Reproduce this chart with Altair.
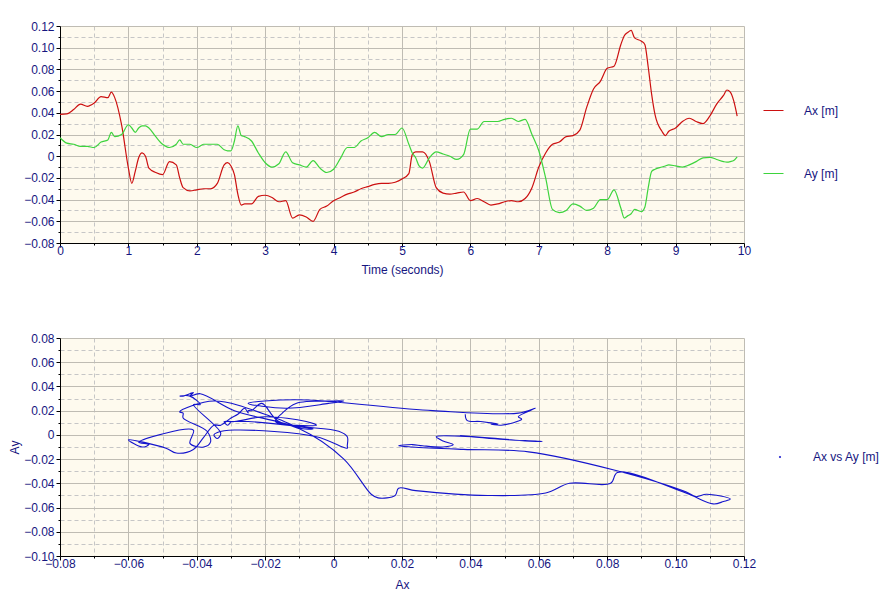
import altair as alt
import pandas as pd

# ---------------- data ----------------
time_s = [0.0, 0.1, 0.2, 0.3, 0.4, 0.5, 0.6, 0.7, 0.75, 0.8, 0.9,
          1.0, 1.05, 1.1, 1.15, 1.2, 1.25, 1.3, 1.4, 1.5, 1.6, 1.7, 1.75, 1.8, 1.9,
          2.0, 2.1, 2.2, 2.3, 2.4, 2.45, 2.5, 2.55, 2.6, 2.65, 2.7, 2.8, 2.9,
          3.0, 3.1, 3.2, 3.3, 3.4, 3.5, 3.6, 3.7, 3.8, 3.9,
          4.0, 4.1, 4.2, 4.3, 4.4, 4.5, 4.6, 4.7, 4.8, 4.9,
          5.0, 5.1, 5.15, 5.2, 5.25, 5.3, 5.4, 5.5, 5.6, 5.7, 5.8, 5.9,
          6.0, 6.1, 6.2, 6.3, 6.4, 6.5, 6.6, 6.7, 6.8, 6.9,
          7.0, 7.1, 7.2, 7.3, 7.4, 7.5, 7.6, 7.7, 7.8, 7.9,
          8.0, 8.1, 8.2, 8.25, 8.3, 8.35, 8.4, 8.5, 8.55, 8.6, 8.65, 8.7, 8.8, 8.85, 8.9,
          9.0, 9.1, 9.2, 9.3, 9.4, 9.5, 9.6, 9.7, 9.75, 9.8, 9.85, 9.9]

ax_m = [0.0385, 0.039, 0.043, 0.048, 0.046, 0.049, 0.055, 0.054, 0.059, 0.054, 0.029,
        -0.011, -0.025, -0.014, -0.0015, 0.003, 0.000, -0.011, -0.015, -0.017, -0.005, -0.008, -0.020, -0.029, -0.032,
        -0.031, -0.030, -0.030, -0.025, -0.008, -0.006, -0.009, -0.017, -0.035, -0.045, -0.044, -0.044, -0.037,
        -0.036, -0.038, -0.042, -0.041, -0.057, -0.054, -0.056, -0.060, -0.049, -0.046,
        -0.041, -0.038, -0.035, -0.033, -0.030, -0.028, -0.026, -0.025, -0.025, -0.024,
        -0.021, -0.016, 0.0015, 0.004, 0.004, 0.004, -0.005, -0.029, -0.034, -0.035, -0.034, -0.033,
        -0.041, -0.039, -0.042, -0.045, -0.044, -0.042, -0.041, -0.042, -0.039, -0.029,
        -0.010, 0.003, 0.011, 0.013, 0.018, 0.019, 0.024, 0.045, 0.062, 0.069,
        0.081, 0.083, 0.103, 0.111, 0.114, 0.116, 0.109, 0.106, 0.103, 0.082, 0.057, 0.038, 0.023, 0.019, 0.023,
        0.026, 0.032, 0.035, 0.032, 0.030, 0.037, 0.048, 0.056, 0.061, 0.059, 0.051, 0.037]

ay_m = [0.017, 0.012, 0.011, 0.009, 0.009, 0.008, 0.013, 0.015, 0.022, 0.018, 0.020,
        0.029, 0.026, 0.022, 0.026, 0.028, 0.028, 0.026, 0.018, 0.011, 0.008, 0.011, 0.015, 0.011, 0.011,
        0.008, 0.011, 0.011, 0.011, 0.006, 0.005, 0.005, 0.014, 0.028, 0.019, 0.018, 0.014, 0.003,
        -0.006, -0.010, -0.007, 0.004, -0.006, -0.008, -0.010, -0.004, -0.011, -0.015,
        -0.012, -0.002, 0.008, 0.008, 0.014, 0.017, 0.022, 0.018, 0.020, 0.020,
        0.026, 0.011, 0.003, -0.0015, -0.009, -0.011, -0.0015, 0.004, 0.002, 0.000, -0.003, 0.0015,
        0.025, 0.025, 0.032, 0.032, 0.032, 0.034, 0.035, 0.032, 0.034, 0.020,
        0.005, -0.020, -0.049, -0.052, -0.050, -0.044, -0.046, -0.050, -0.048, -0.040,
        -0.040, -0.031, -0.048, -0.057, -0.055, -0.053, -0.049, -0.051, -0.047, -0.029, -0.014, -0.012, -0.010, -0.009, -0.008,
        -0.009, -0.010, -0.008, -0.005, -0.0015, -0.001, -0.003, -0.005, -0.0055, -0.005, -0.004, -0.0006]

series_names = ["Ax [m]", "Ay [m]"]
pair_name = "Ax vs Ay [m]"

top_x_major = [0, 1, 2, 3, 4, 5, 6, 7, 8, 9, 10]
top_x_minor = [0.5, 1.5, 2.5, 3.5, 4.5, 5.5, 6.5, 7.5, 8.5, 9.5]
top_y_major = [-0.08, -0.06, -0.04, -0.02, 0, 0.02, 0.04, 0.06, 0.08, 0.10, 0.12]
top_y_minor = [-0.07, -0.05, -0.03, -0.01, 0.01, 0.03, 0.05, 0.07, 0.09, 0.11]
bot_x_major = [-0.08, -0.06, -0.04, -0.02, 0, 0.02, 0.04, 0.06, 0.08, 0.10, 0.12]
bot_x_minor = [-0.07, -0.05, -0.03, -0.01, 0.01, 0.03, 0.05, 0.07, 0.09, 0.11]
bot_y_major = [-0.10, -0.08, -0.06, -0.04, -0.02, 0, 0.02, 0.04, 0.06, 0.08]
bot_y_minor = [-0.09, -0.07, -0.05, -0.03, -0.01, 0.01, 0.03, 0.05, 0.07]

assert len(time_s) == len(ax_m) == len(ay_m)

wide = pd.DataFrame({"t": time_s, "Ax": ax_m, "Ay": ay_m})
wide["pair"] = pair_name
long = pd.concat([
    pd.DataFrame({"t": time_s, "value": ax_m, "series": series_names[0]}),
    pd.DataFrame({"t": time_s, "value": ay_m, "series": series_names[1]}),
], ignore_index=True)

# ---------------- style ----------------
NAVY = "#16167f"
FONT = "Liberation Sans"
MAJOR = "#bfbcb3"
MINOR = "#c6c6c6"
BG = "#fefaee"
RED = "#cc1010"
GREEN = "#3dd43d"
BLUE = "#1414cc"
LABEL_EXPR = "abs(datum.value) < 1e-9 ? '0' : format(datum.value, '.2f')"


def major_axis(values, orient, title=None, fmt=True, label_pad=2, title_pad=6):
    kw = dict(values=values, orient=orient, grid=True, gridColor=MAJOR, gridWidth=1,
              domain=True, domainColor="black", domainWidth=1,
              ticks=True, tickColor="black", tickSize=4, tickWidth=1,
              labels=True, labelColor=NAVY, labelFont=FONT, labelFontSize=12,
              labelPadding=label_pad, labelFlush=False, labelOverlap=False,
              titleColor=NAVY, titleFont=FONT, titleFontSize=12,
              titleFontWeight="normal", titlePadding=title_pad, title=title)
    if fmt:
        kw["labelExpr"] = LABEL_EXPR
    return alt.Axis(**kw)


def minor_axis(values, orient):
    return alt.Axis(values=values, orient=orient, grid=True, gridColor=MINOR,
                    gridDash=[4, 3], gridWidth=1, domain=False, ticks=True,
                    tickColor="black", tickSize=2, labels=False, title=None)


W = 684

# ---------------- top: time series ----------------
top_lines = alt.Chart(long).mark_line(strokeWidth=1.2, interpolate="monotone").encode(
    x=alt.X("t:Q", scale=alt.Scale(domain=[0, 10], nice=False, zero=False),
            axis=major_axis(top_x_major, "bottom", title="Time (seconds)", fmt=False,
                            label_pad=-2, title_pad=8)),
    y=alt.Y("value:Q", scale=alt.Scale(domain=[-0.08, 0.12], nice=False, zero=False),
            axis=major_axis(top_y_major, "left")),
    color=alt.Color("series:N",
                    scale=alt.Scale(domain=series_names, range=[RED, GREEN]),
                    legend=alt.Legend(title=None, orient="none", legendX=703, legendY=74,
                                      symbolType="stroke", symbolSize=400,
                                      symbolStrokeWidth=1, labelOffset=20, rowPadding=46,
                                      padding=0, labelColor=NAVY, labelFont=FONT,
                                      labelFontSize=12)),
    order="t:Q",
)

top_minor = alt.Chart(long).mark_line(opacity=0).encode(
    x=alt.X("t:Q", axis=minor_axis(top_x_minor, "bottom")),
    y=alt.Y("value:Q", axis=minor_axis(top_y_minor, "left")),
    detail="series:N",
)

top = alt.layer(top_minor, top_lines).resolve_axis(
    x="independent", y="independent"
).properties(width=W, height=217)

# ---------------- bottom: Ax vs Ay ----------------
bot_line = alt.Chart(wide).mark_line(strokeWidth=1.1, interpolate="catmull-rom").encode(
    x=alt.X("Ax:Q", scale=alt.Scale(domain=[-0.08, 0.12], nice=False, zero=False),
            axis=major_axis(bot_x_major, "bottom", title="Ax", label_pad=-2, title_pad=10)),
    y=alt.Y("Ay:Q", scale=alt.Scale(domain=[-0.10, 0.08], nice=False, zero=False),
            axis=major_axis(bot_y_major, "left", title="Ay", title_pad=2)),
    color=alt.Color("pair:N", scale=alt.Scale(domain=[pair_name], range=[BLUE]),
                    legend=alt.Legend(title=None, orient="none", legendX=714, legendY=113,
                                      symbolType="circle", symbolSize=2,
                                      symbolStrokeWidth=1, labelOffset=27, padding=0,
                                      labelColor=NAVY, labelFont=FONT, labelFontSize=12)),
    order="t:Q",
)

bot_minor = alt.Chart(wide).mark_line(opacity=0).encode(
    x=alt.X("Ax:Q", axis=minor_axis(bot_x_minor, "bottom")),
    y=alt.Y("Ay:Q", axis=minor_axis(bot_y_minor, "left")),
    order="t:Q",
)

bottom = alt.layer(bot_minor, bot_line).resolve_axis(
    x="independent", y="independent"
).properties(width=W, height=218)

chart = alt.vconcat(top, bottom, spacing=55).resolve_scale(
    color="independent"
).properties(
    padding={"left": 0, "top": 11, "right": 0, "bottom": 0},
    background="white",
).configure_view(fill=BG, stroke="transparent")

chart.save("out.html", embed_options={"renderer": "svg", "actions": False})
